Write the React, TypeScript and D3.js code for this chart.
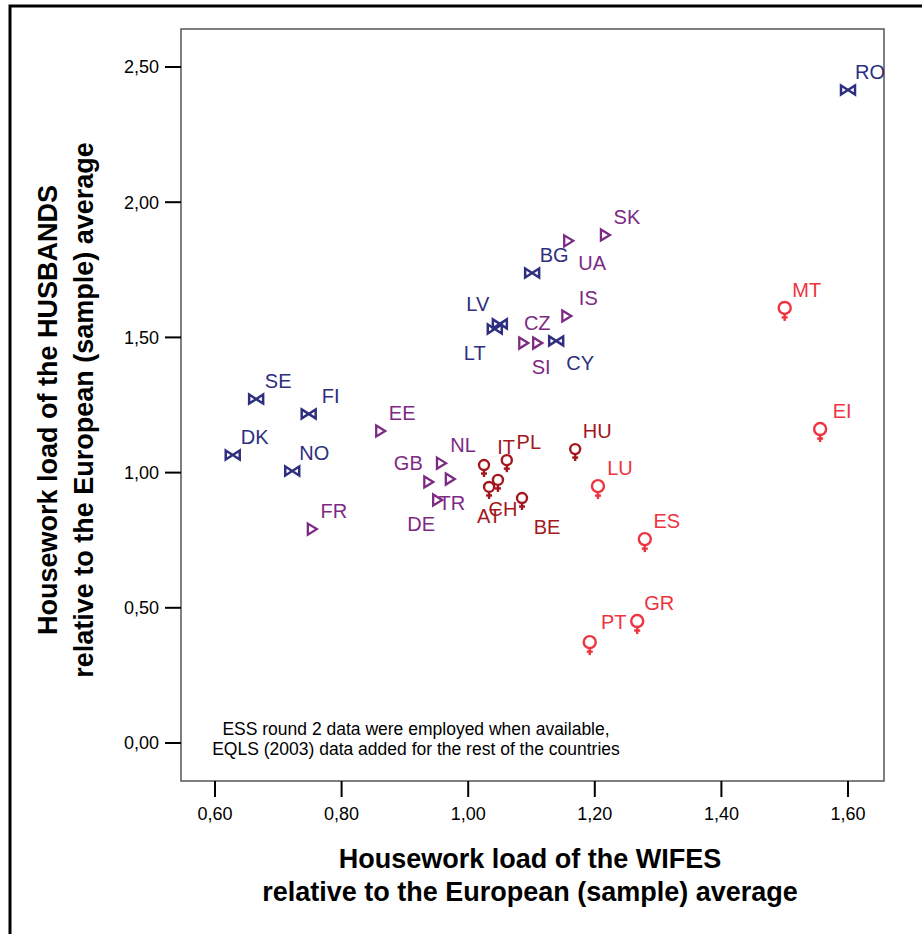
import React from "react";
import * as d3 from "d3";

const navyCountries = ["RO", "SE", "FI", "DK", "NO", "BG", "LV", "LT", "CY"];
const navyWife = [1.600, 0.665, 0.748, 0.628, 0.722, 1.101, 1.050, 1.042, 1.139];
const navyHusband = [2.415, 1.272, 1.217, 1.065, 1.006, 1.738, 1.550, 1.531, 1.487];

const purpleCountries = ["SK", "UA", "IS", "CZ", "SI", "EE", "FR", "NL", "GB", "TR", "DE"];
const purpleWife = [1.216, 1.158, 1.155, 1.087, 1.109, 0.861, 0.753, 0.957, 0.937, 0.971, 0.951];
const purpleHusband = [1.879, 1.857, 1.579, 1.479, 1.479, 1.154, 0.791, 1.035, 0.965, 0.976, 0.899];

const darkRedCountries = ["IT", "PL", "HU", "CH", "AT", "BE"];
const darkRedWife = [1.025, 1.061, 1.169, 1.047, 1.033, 1.085];
const darkRedHusband = [1.028, 1.046, 1.087, 0.973, 0.947, 0.906];

const redCountries = ["LU", "ES", "MT", "EI", "PT", "GR"];
const redWife = [1.205, 1.279, 1.500, 1.556, 1.192, 1.267];
const redHusband = [0.950, 0.754, 1.609, 1.161, 0.373, 0.451];

const xTicks = [0.6, 0.8, 1.0, 1.2, 1.4, 1.6];
const yTicks = [0, 0.5, 1.0, 1.5, 2.0, 2.5];

const xTitle = ["Housework load of the WIFES", "relative to the European (sample) average"];
const yTitle = ["Housework load of the HUSBANDS", "relative to the European (sample) average"];
const note = ["ESS round 2 data were employed when available,", "EQLS (2003) data added for the rest of the countries"];

// label offsets (pixels) relative to marker
const labelOffset: Record<string, [number, number]> = {
  LT: [-20, 24], UA: [24, 22], CY: [24, 22], SI: [4, 24], CZ: [14, -20],
  GB: [-20, -19], TR: [2, 24], DE: [-16, 24], AT: [0, 29], CH: [5, 29], BE: [25, 29],
  PT: [24, -20], LV: [-22, -20],
};

const NAVY = "#2e2f7f";
const PURPLE = "#7d2a83";
const DARKRED = "#a3171d";
const RED = "#ee3440";

const L = 181, T = 29, R = 884, B = 781;

export default function App() {
  const x = d3.scaleLinear().domain([0.6, 1.6]).range([215, 848]);
  const y = d3.scaleLinear().domain([0, 2.5]).range([743, 67]);
  const fmt = (v: number) => v.toFixed(2).replace(".", ",");

  const series = [
    { names: navyCountries, xs: navyWife, ys: navyHusband, color: NAVY, kind: "bow" },
    { names: purpleCountries, xs: purpleWife, ys: purpleHusband, color: PURPLE, kind: "tri" },
    { names: darkRedCountries, xs: darkRedWife, ys: darkRedHusband, color: DARKRED, kind: "fem", r: 5 },
    { names: redCountries, xs: redWife, ys: redHusband, color: RED, kind: "fem", r: 6 },
  ];

  const marker = (kind: string, color: string, r: number) => {
    if (kind === "bow")
      return <path d="M-7,-4.5 L7,4.5 L7,-4.5 L-7,4.5 Z" fill="none" stroke={color} strokeWidth={2.5} strokeLinejoin="miter" />;
    if (kind === "tri")
      return <path d="M-4,-5.5 L5,0 L-4,5.5 Z" fill="none" stroke={color} strokeWidth={2.3} />;
    return (
      <g stroke={color} strokeWidth={2.4} fill="none">
        <circle cx={0} cy={0} r={r} />
        <line x1={0} y1={r} x2={0} y2={r + 7} />
        <line x1={-3} y1={r + 3.5} x2={3} y2={r + 3.5} />
      </g>
    );
  };

  return (
    <svg width={922} height={934} style={{ position: "absolute", left: 0, top: 0, background: "#fff" }}
      fontFamily="'Liberation Sans', Arial, sans-serif">
      <rect x={10} y={6} width={940} height={960} fill="#fff" stroke="#000" strokeWidth={3} />
      <rect x={L} y={T} width={R - L} height={B - T} fill="#fff" stroke="#555" strokeWidth={1.5} />
      {yTicks.map((t) => (
        <g key={"y" + t}>
          <line x1={165} x2={L} y1={y(t)} y2={y(t)} stroke="#000" strokeWidth={2} />
          <text x={159} y={y(t)} dy="0.36em" textAnchor="end" fontSize={18} fill="#000">{fmt(t)}</text>
        </g>
      ))}
      {xTicks.map((t) => (
        <g key={"x" + t}>
          <line x1={x(t)} x2={x(t)} y1={B} y2={797} stroke="#000" strokeWidth={2} />
          <text x={x(t)} y={820} textAnchor="middle" fontSize={18} fill="#000">{fmt(t)}</text>
        </g>
      ))}
      {xTitle.map((s, i) => (
        <text key={s} x={530} y={868 + i * 33} textAnchor="middle" fontSize={27} fontWeight="bold" fill="#000">{s}</text>
      ))}
      {yTitle.map((s, i) => (
        <text key={s} transform={`translate(${57 + i * 36},410) rotate(-90)`} textAnchor="middle" fontSize={27} fontWeight="bold" fill="#000">{s}</text>
      ))}
      {note.map((s, i) => (
        <text key={s} x={416} y={735 + i * 20} textAnchor="middle" fontSize={17.5} fill="#000">{s}</text>
      ))}
      {series.map((s) =>
        s.names.map((n, i) => {
          const px = x(s.xs[i]);
          const py = y(s.ys[i]);
          const off = labelOffset[n] || [22, -18];
          return (
            <g key={n}>
              <g transform={`translate(${px},${py})`}>{marker(s.kind, s.color, (s as any).r || 6)}</g>
              <text x={px + off[0]} y={py + off[1]} dy="0.36em" textAnchor="middle" fontSize={20} fill={s.color}>{n}</text>
            </g>
          );
        })
      )}
    </svg>
  );
}
